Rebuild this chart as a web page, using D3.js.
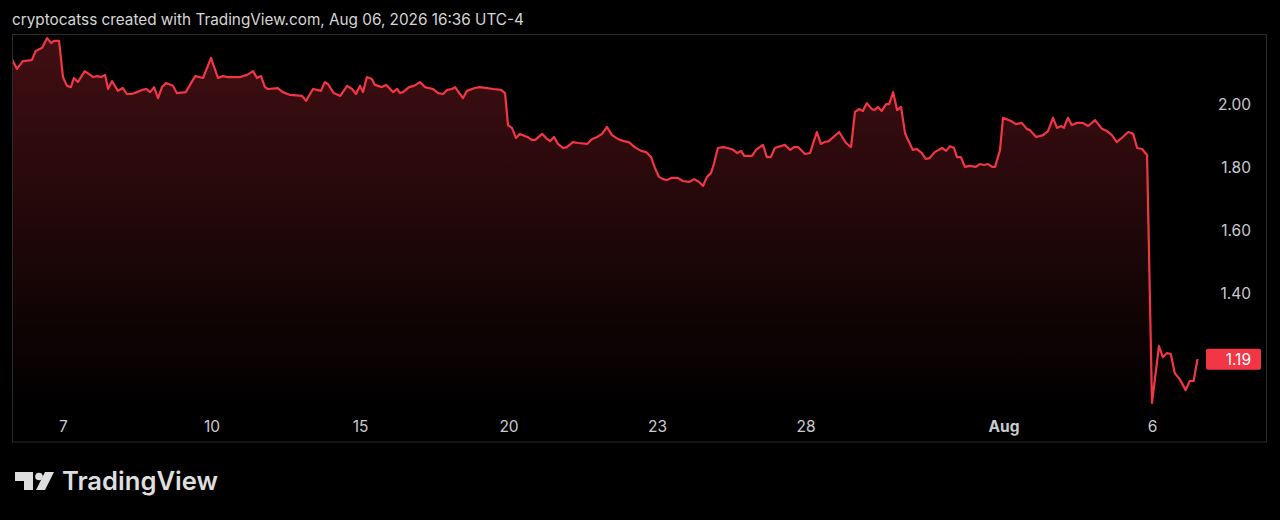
<!DOCTYPE html>
<html lang="en">
<head>
    <meta charset="UTF-8">
    <title>Price chart</title>
    <script src="https://d3js.org/d3.v7.min.js"></script>
    <style>
        body { margin: 0; background: #000; }
        svg text { font-family: Inter, "Noto Sans", sans-serif; }
        .header { font-size: 15.3px; fill: #d6d6d6; }
        .tick text { font-size: 15.5px; fill: #c9cbd0; }
        .logo-text { font-size: 25.6px; font-weight: 600; fill: #dedede; }
    </style>
</head>
<body>
<svg id="chart" width="1280" height="520"></svg>
<script>
    // time in trading sessions since Jul 6 open (weekends skipped), price in USD
    const times = [
        -0.03, 0.07, 0.19, 0.37, 0.45, 0.58, 0.68, 0.76, 0.82, 0.92,
        1.00, 1.08, 1.16, 1.22, 1.30, 1.44, 1.61, 1.69, 1.77, 1.85, 1.91, 1.99,
        2.11, 2.21, 2.29, 2.39, 2.49, 2.60, 2.68, 2.76, 2.84, 2.92,
        3.00, 3.08, 3.22, 3.30, 3.48, 3.67, 3.83, 3.99,
        4.13, 4.23, 4.33, 4.58, 4.72, 4.84, 4.92,
        5.00, 5.08, 5.14, 5.34, 5.44, 5.59, 5.83, 5.91,
        6.05, 6.13, 6.21, 6.29, 6.35, 6.47, 6.60, 6.74, 6.84, 6.92,
        7.00, 7.06, 7.14, 7.24, 7.30, 7.44, 7.53, 7.67, 7.75, 7.81, 7.87, 7.99,
        8.09, 8.21, 8.31, 8.47, 8.58, 8.68, 8.76, 8.86, 8.92,
        9.08, 9.16, 9.32, 9.42, 9.57, 9.69, 9.85, 9.93, 9.99,
        10.07, 10.15, 10.23, 10.33, 10.39, 10.47, 10.54, 10.68, 10.78, 10.84, 10.92,
        11.00, 11.10, 11.18, 11.30, 11.41, 11.59, 11.69, 11.79, 11.89, 11.99,
        12.09, 12.21, 12.33, 12.43, 12.55, 12.68, 12.78, 12.88, 12.96,
        13.04, 13.12, 13.20, 13.30, 13.42, 13.52, 13.65, 13.75, 13.85, 13.93,
        14.01, 14.09, 14.15, 14.23, 14.33, 14.43, 14.54, 14.62, 14.70, 14.76, 14.92,
        15.00, 15.14, 15.22, 15.30, 15.38, 15.58, 15.69, 15.77, 15.85, 15.99,
        16.09, 16.23, 16.31, 16.39, 16.47, 16.68, 16.82, 16.92,
        17.00, 17.08, 17.16, 17.24, 17.34, 17.40, 17.46, 17.54, 17.63, 17.69, 17.77, 17.85, 17.93,
        18.01, 18.07, 18.17, 18.25, 18.35, 18.43, 18.51, 18.61, 18.76, 18.84, 18.92,
        19.00, 19.06, 19.14, 19.22, 19.32, 19.44, 19.52, 19.61, 19.69, 19.77, 19.83, 19.93, 19.99,
        20.15, 20.25, 20.37, 20.47, 20.53, 20.66, 20.80, 20.90,
        21.00, 21.08, 21.16, 21.22, 21.30, 21.38, 21.48, 21.60, 21.71, 21.85, 21.99,
        22.09, 22.19, 22.29, 22.41, 22.52, 22.62, 22.70, 22.80, 22.90,
        23.00, 23.14, 23.22, 23.30, 23.38, 23.46, 23.56, 23.68, 23.76, 23.84, 23.92
    ];
    const prices = [
        2.146, 2.115, 2.140, 2.143, 2.172, 2.182, 2.213, 2.197, 2.204, 2.204,
        2.089, 2.061, 2.057, 2.086, 2.073, 2.108, 2.089, 2.092, 2.089, 2.096, 2.051, 2.076,
        2.045, 2.054, 2.035, 2.035, 2.041, 2.048, 2.051, 2.041, 2.057, 2.022,
        2.057, 2.070, 2.061, 2.038, 2.041, 2.092, 2.086, 2.150,
        2.086, 2.092, 2.089, 2.089, 2.096, 2.108, 2.086,
        2.092, 2.057, 2.051, 2.054, 2.041, 2.032, 2.029, 2.013,
        2.051, 2.048, 2.045, 2.073, 2.067, 2.038, 2.029, 2.061, 2.051, 2.035,
        2.061, 2.041, 2.089, 2.083, 2.064, 2.057, 2.064, 2.041, 2.051, 2.038, 2.041, 2.057,
        2.061, 2.073, 2.057, 2.051, 2.038, 2.035, 2.048, 2.051, 2.057,
        2.022, 2.045, 2.054, 2.057, 2.054, 2.051, 2.048, 2.038, 1.936,
        1.927, 1.895, 1.908, 1.901, 1.898, 1.889, 1.889, 1.908, 1.892, 1.885, 1.898,
        1.876, 1.863, 1.866, 1.882, 1.879, 1.876, 1.892, 1.898, 1.908, 1.930,
        1.904, 1.892, 1.885, 1.882, 1.866, 1.854, 1.850, 1.834, 1.799,
        1.771, 1.764, 1.761, 1.768, 1.768, 1.758, 1.755, 1.764, 1.755, 1.742,
        1.771, 1.783, 1.812, 1.863, 1.866, 1.863, 1.857, 1.847, 1.854, 1.838, 1.838,
        1.857, 1.873, 1.834, 1.834, 1.863, 1.873, 1.857, 1.866, 1.866, 1.844,
        1.847, 1.914, 1.876, 1.882, 1.885, 1.914, 1.879, 1.866,
        1.978, 1.987, 1.981, 2.006, 1.987, 1.984, 1.994, 1.981, 2.003, 2.003, 2.041, 1.984, 1.994,
        1.911, 1.889, 1.857, 1.860, 1.847, 1.828, 1.831, 1.850, 1.863, 1.854, 1.869,
        1.863, 1.834, 1.834, 1.803, 1.806, 1.803, 1.812, 1.809, 1.812, 1.803, 1.803, 1.857, 1.959,
        1.949, 1.939, 1.943, 1.924, 1.920, 1.898, 1.904, 1.917,
        1.959, 1.927, 1.933, 1.927, 1.959, 1.936, 1.943, 1.943, 1.933, 1.952, 1.924,
        1.917, 1.904, 1.882, 1.898, 1.914, 1.908, 1.863, 1.860, 1.841,
        1.051, 1.232, 1.197, 1.210, 1.207, 1.146, 1.127, 1.092, 1.121, 1.121, 1.191
    ];

    // x axis: session index of each labelled day
    const tickDays = [1, 4, 7, 10, 13, 16, 20, 23];
    const tickLabels = ["7", "10", "15", "20", "23", "28", "Aug", "6"];
    const priceTicks = [1.40, 1.60, 1.80, 2.00];
    const lastPrice = 1.19;

    const svg = d3.select("#chart");
    const data = times.map((t, i) => ({t: t, v: prices[i]}));

    // scales
    const x = d3.scaleLinear().domain([0, 24]).range([13.5, 1201.5]);
    const y = d3.scaleLinear().domain([1.0, 2.2]).range([419, 42.2]);
    const paneBottom = 410;

    // header
    svg.append("text")
        .attr("class", "header")
        .attr("x", 12)
        .attr("y", 25)
        .text("cryptocatss created with TradingView.com, Aug 06, 2026 16:36 UTC-4");

    // gradient for area fill
    const defs = svg.append("defs");
    const grad = defs.append("linearGradient")
        .attr("id", "fillGrad")
        .attr("gradientUnits", "userSpaceOnUse")
        .attr("x1", 0).attr("x2", 0)
        .attr("y1", y(d3.max(prices))).attr("y2", paneBottom);
    grad.append("stop").attr("offset", "0%").attr("stop-color", "#f23645").attr("stop-opacity", 0.27);
    grad.append("stop").attr("offset", "100%").attr("stop-color", "#f23645").attr("stop-opacity", 0.0);

    defs.append("clipPath").attr("id", "paneClip")
        .append("rect").attr("x", 12).attr("y", 35).attr("width", 1255).attr("height", 407);

    const plot = svg.append("g").attr("clip-path", "url(#paneClip)");

    const area = d3.area()
        .x(d => x(d.t))
        .y0(paneBottom)
        .y1(d => y(d.v));

    const line = d3.line()
        .x(d => x(d.t))
        .y(d => y(d.v));

    plot.append("path")
        .datum(data)
        .attr("d", area)
        .attr("fill", "url(#fillGrad)");

    plot.append("path")
        .datum(data)
        .attr("d", line)
        .attr("fill", "none")
        .attr("stroke", "#f23645")
        .attr("stroke-width", 2.2)
        .attr("stroke-linejoin", "round");

    // price axis on the right
    const yAxis = svg.append("g")
        .attr("transform", "translate(1251,0)")
        .call(d3.axisRight(y).tickValues(priceTicks).tickFormat(d3.format(".2f")).tickSize(0).tickPadding(0));
    yAxis.select(".domain").remove();
    yAxis.selectAll("text").attr("text-anchor", "end").attr("x", 0);

    // time axis
    const xAxis = svg.append("g")
        .attr("transform", "translate(0,421)")
        .call(d3.axisBottom(x).tickValues(tickDays).tickFormat((d, i) => tickLabels[i]).tickSize(0).tickPadding(0));
    xAxis.select(".domain").remove();
    xAxis.selectAll("text")
        .attr("text-anchor", "middle")
        .style("font-weight", (d, i) => tickLabels[i] === "Aug" ? 700 : 400);

    // last price label
    const ly = y(lastPrice);
    svg.append("rect")
        .attr("x", 1206).attr("y", ly - 10.5)
        .attr("width", 55).attr("height", 21)
        .attr("rx", 2)
        .attr("fill", "#f23645");
    svg.append("text")
        .attr("x", 1251).attr("y", ly)
        .attr("dy", "0.35em")
        .attr("text-anchor", "end")
        .style("font-size", "15.5px")
        .attr("fill", "#ffffff")
        .text(lastPrice.toFixed(2));

    // pane frame
    svg.append("rect")
        .attr("x", 12.5).attr("y", 34.5)
        .attr("width", 1254).attr("height", 407.5)
        .attr("fill", "none")
        .attr("stroke", "#2b2b2b")
        .attr("stroke-width", 1);

    // TradingView logo
    const logo = svg.append("g").attr("fill", "#dedede");
    logo.append("path").attr("d", "M15,472 H33 V490 H24 V481 H15 Z");
    logo.append("circle").attr("cx", 39).attr("cy", 476.5).attr("r", 3.8);
    logo.append("path").attr("d", "M45,472 H54 L45,490 H36 Z");
    logo.append("text")
        .attr("class", "logo-text")
        .attr("x", 62)
        .attr("y", 490)
        .text("TradingView");
</script>
</body>
</html>
